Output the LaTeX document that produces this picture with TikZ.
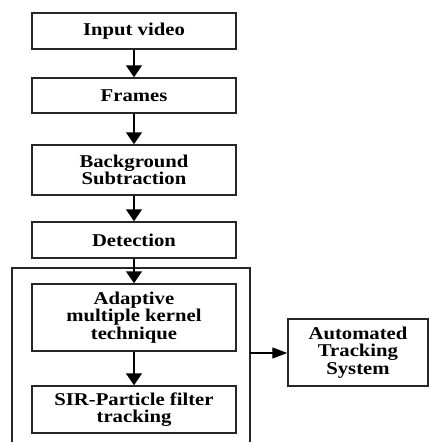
\documentclass[tikz,border=0pt]{standalone}
\usepackage{fontspec}
\setmainfont[FakeStretch=1.15]{Liberation Serif}
\usetikzlibrary{arrows.meta}
\begin{document}
\begin{tikzpicture}[x=1pt,y=-1pt,
  box/.style={draw=black!85, line width=1.5pt, minimum width=204pt, align=center,
    font=\fontsize{18}{17.5}\selectfont\bfseries, inner sep=0pt},
  arr/.style={draw=black, line width=1.5pt, -{Triangle[length=12pt,width=16pt]}},
  harr/.style={draw=black, line width=1.3pt, -{Triangle[length=15pt,width=11pt]}}]
\useasboundingbox (0,0) rectangle (429,442);
\node[box, minimum height=36pt] (in) at (134,31) {Input video};
\node[box, minimum height=35pt] (fr) at (134,95.5) {Frames};
\node[box, minimum height=50pt] (bg) at (134,170) {Background\\Subtraction};
\node[box, minimum height=36pt] (de) at (134,240) {Detection};
\node[box, minimum height=67pt] (ad) at (134,317.5) {Adaptive\\multiple kernel\\technique};
\node[box, minimum height=47pt] (sir) at (134,409.5) {SIR-Particle filter\\tracking};
\node[box, minimum width=140pt, minimum height=67pt] (ats) at (358,352.5) {Automated\\Tracking\\System};
\draw[black!85, line width=1.5pt] (12,442) -- (12,268) -- (250,268) -- (250,442);
\coordinate (gr) at (250,353);
\draw[arr] (in) -- (fr);
\draw[arr] (fr) -- (bg);
\draw[arr] (bg) -- (de);
\draw[arr] (de) -- (ad);
\draw[arr] (ad) -- (sir);
\draw[harr] (gr) -- (ats.west |- gr);
\end{tikzpicture}
\end{document}
